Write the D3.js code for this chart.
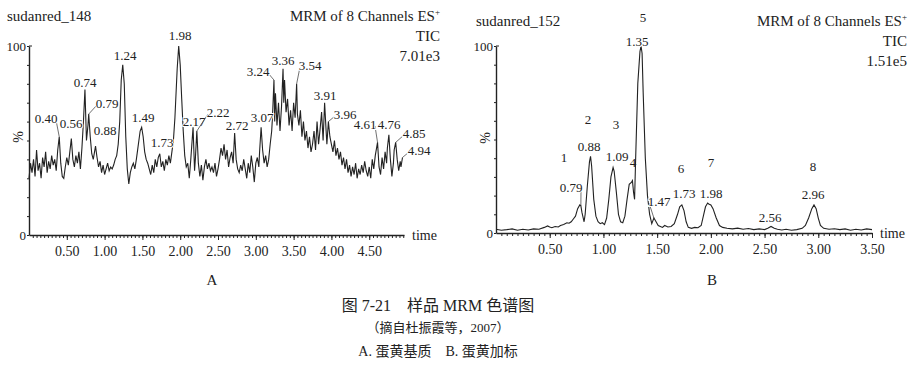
<!DOCTYPE html>
<html>
<head>
<meta charset="utf-8">
<script src="https://cdn.jsdelivr.net/npm/d3@7"></script>
<style>
  body { margin: 0; background: #fff; }
  svg text { font-family: "Liberation Serif", "DejaVu Serif", "Noto Sans CJK SC", serif; fill: #222; }
  .cjk { font-family: "Liberation Serif", "Noto Sans CJK SC", serif; }
  .domain, .tick line { stroke: #222; }
</style>
</head>
<body>
<div id="chart"></div>
<script>
// Trace A (sample matrix), [time, %]
var traceA = [
  [0.00,30],[0.02,38],[0.04,33],[0.06,40],[0.08,31],[0.10,45],[0.12,34],[0.14,38],[0.16,30],[0.18,41],
  [0.20,36],[0.22,44],[0.24,33],[0.26,39],[0.28,35],[0.30,42],[0.32,37],[0.34,40],[0.36,34],[0.38,45],
  [0.40,52],[0.42,38],[0.44,31],[0.46,30],[0.48,36],[0.50,41],[0.52,37],[0.54,44],[0.56,51],[0.58,40],
  [0.60,36],[0.62,42],[0.64,38],[0.66,44],[0.68,35],[0.70,46],[0.72,60],[0.74,77],[0.76,50],[0.78,58],
  [0.79,64],[0.81,52],[0.83,43],[0.85,40],[0.88,47],[0.90,41],[0.92,36],[0.94,39],[0.96,33],[0.98,37],
  [1.00,32],[1.02,35],[1.04,38],[1.06,34],[1.08,36],[1.10,35],[1.12,37],[1.14,40],[1.16,42],[1.18,48],
  [1.20,60],[1.22,82],[1.24,90],[1.26,80],[1.28,52],[1.30,35],[1.32,27],[1.34,33],[1.36,36],[1.38,38],
  [1.40,35],[1.42,40],[1.44,46],[1.47,55],[1.49,57],[1.51,52],[1.53,44],[1.55,40],[1.57,38],[1.59,35],
  [1.61,32],[1.63,37],[1.65,33],[1.67,40],[1.69,36],[1.71,41],[1.73,43],[1.75,36],[1.77,39],[1.79,34],
  [1.81,40],[1.83,37],[1.85,42],[1.87,38],[1.89,44],[1.91,50],[1.93,62],[1.96,88],[1.98,100],[2.00,90],
  [2.02,72],[2.04,55],[2.06,42],[2.08,36],[2.10,38],[2.12,30],[2.14,40],[2.17,57],[2.19,34],[2.20,40],
  [2.22,55],[2.24,38],[2.26,31],[2.28,37],[2.30,29],[2.32,36],[2.34,40],[2.36,35],[2.38,38],[2.40,34],
  [2.42,36],[2.44,33],[2.46,38],[2.48,31],[2.50,35],[2.52,40],[2.54,46],[2.56,42],[2.58,48],[2.60,40],
  [2.62,45],[2.64,36],[2.66,41],[2.68,44],[2.70,38],[2.72,54],[2.74,40],[2.76,35],[2.78,33],[2.80,37],
  [2.82,34],[2.84,40],[2.86,35],[2.88,30],[2.90,38],[2.92,33],[2.94,42],[2.96,36],[2.98,28],[3.00,38],
  [3.02,41],[3.04,36],[3.05,44],[3.07,57],[3.09,45],[3.11,38],[3.13,42],[3.15,36],[3.17,40],[3.19,48],
  [3.21,55],[3.22,62],[3.24,82],[3.25,60],[3.26,75],[3.28,58],[3.30,70],[3.32,55],[3.34,68],[3.36,88],
  [3.37,70],[3.38,82],[3.40,65],[3.42,72],[3.44,58],[3.46,66],[3.48,55],[3.50,70],[3.52,62],[3.54,80],
  [3.55,64],[3.57,58],[3.59,66],[3.61,52],[3.63,60],[3.65,50],[3.67,55],[3.69,46],[3.71,52],[3.73,44],
  [3.75,48],[3.77,55],[3.79,45],[3.81,60],[3.83,48],[3.85,56],[3.87,65],[3.89,50],[3.91,70],[3.93,55],
  [3.94,48],[3.96,60],[3.98,52],[4.00,48],[4.02,44],[4.04,50],[4.06,42],[4.08,46],[4.10,40],[4.12,44],
  [4.14,37],[4.16,41],[4.18,35],[4.20,40],[4.22,33],[4.24,37],[4.26,31],[4.28,36],[4.30,32],[4.32,38],
  [4.34,30],[4.36,35],[4.38,32],[4.40,37],[4.42,33],[4.44,39],[4.46,34],[4.48,31],[4.50,36],[4.52,30],
  [4.54,40],[4.56,35],[4.58,42],[4.61,49],[4.63,36],[4.65,32],[4.67,41],[4.69,35],[4.71,44],[4.73,38],
  [4.74,46],[4.76,53],[4.78,40],[4.80,31],[4.82,38],[4.83,45],[4.85,49],[4.87,40],[4.89,34],[4.91,39],
  [4.92,36],[4.94,41]
];

// Trace B (spiked sample)
var traceB = [
  [0.00,2],[0.05,1.5],[0.10,1.8],[0.15,2.2],[0.20,1.5],[0.25,2.0],[0.30,1.6],[0.35,2.2],[0.40,2.0],[0.45,3.0],
  [0.48,3.8],[0.50,3.2],[0.52,2.8],[0.55,3.5],[0.58,3.2],[0.60,4.0],[0.63,4.5],[0.66,5.5],[0.68,5.2],[0.70,6.0],
  [0.72,7.5],[0.74,9],[0.76,13],[0.78,15],[0.79,14.5],[0.80,11],[0.82,6],[0.83,10],[0.85,25],[0.87,38],
  [0.88,41],[0.89,36],[0.91,18],[0.93,9],[0.95,6],[0.97,5],[0.99,5.5],[1.01,4.5],[1.03,8],[1.05,18],
  [1.07,30],[1.09,35],[1.10,33],[1.12,22],[1.14,10],[1.16,6],[1.18,5.5],[1.20,9],[1.22,18],[1.24,26],
  [1.26,27],[1.27,28],[1.28,22],[1.29,18],[1.30,40],[1.32,80],[1.34,97],[1.35,100],[1.36,96],[1.37,75],
  [1.39,40],[1.41,20],[1.43,10],[1.45,5],[1.47,8],[1.49,6],[1.51,4],[1.53,3.5],[1.55,3],[1.57,4],
  [1.60,3.2],[1.63,3.5],[1.66,5],[1.69,10],[1.71,14],[1.73,15],[1.75,12],[1.77,6],[1.79,3],[1.82,2.5],
  [1.85,3],[1.88,2.8],[1.91,4],[1.93,9],[1.95,14],[1.97,16],[1.98,15.5],[2.00,15],[2.02,13],[2.05,8],
  [2.08,4],[2.11,3],[2.15,2.5],[2.20,2.2],[2.25,2.6],[2.30,2],[2.35,2.4],[2.40,1.8],[2.45,2.2],[2.50,1.8],
  [2.53,2.5],[2.56,3.5],[2.59,2.5],[2.62,2.0],[2.66,1.6],[2.70,2.0],[2.75,1.5],[2.80,1.8],[2.85,2.5],[2.88,4],
  [2.91,8],[2.94,13],[2.96,15],[2.98,13],[3.00,8],[3.02,4],[3.05,2.5],[3.10,2],[3.15,2.3],[3.20,1.8],
  [3.25,2.2],[3.30,1.5],[3.35,2.0],[3.40,1.6],[3.45,2.2],[3.50,1.8]
];

// Peak labels (retention times)
var peaksA = [0.40,0.56,0.74,0.79,0.88,1.24,1.49,1.73,1.98,2.17,2.22,2.72,3.07,3.24,3.36,3.54,3.91,3.96,4.61,4.76,4.85,4.94];
var peaksB = [0.79,0.88,1.09,1.35,1.47,1.73,1.98,2.56,2.96];
// compound numbers over B peaks
var compoundNums = ['1','2','3','4','5','6','7','8'];
var compoundTimes = [0.79,0.88,1.09,1.27,1.35,1.73,1.98,2.96];

var ticksA = [0.5,1.0,1.5,2.0,2.5,3.0,3.5,4.0,4.5];
var ticksB = [0.5,1.0,1.5,2.0,2.5,3.0,3.5];

// label placement (centre x, baseline y in page px) - layout only
var labelPosA = {
  0.40:[46,123], 0.56:[71,128], 0.74:[85,87], 0.79:[107,108], 0.88:[105,135], 1.24:[125,60],
  1.49:[143,122], 1.73:[162,147], 1.98:[180,40], 2.17:[194,126], 2.22:[218,117], 2.72:[237,130],
  3.07:[262,122], 3.24:[258,76], 3.36:[283,65], 3.54:[310,70], 3.91:[325,100], 3.96:[345,119],
  4.61:[365,129], 4.76:[389,129], 4.85:[414,138], 4.94:[419,155]
};
var labelPosB = {
  0.79:[571,192], 0.88:[589,151], 1.09:[617,161], 1.35:[637,46], 1.47:[659,206],
  1.73:[684,198], 1.98:[711,198], 2.56:[770,222], 2.96:[813,199]
};
var numPosB = [[564,162],[588,124],[616,129],[633,167],[643,22],[681,173],[711,167],[813,171]];

var svg = d3.select('#chart').append('svg')
    .attr('width', 919)
    .attr('height', 372);

function drawPanel(o) {
  var x = d3.scaleLinear().domain(o.xDomain).range(o.xRange);
  var y = d3.scaleLinear().domain([0, 100]).range(o.yRange);
  var g = svg.append('g');

  // minor x ticks
  g.append('g')
      .attr('transform', 'translate(0,' + o.yRange[0] + ')')
      .call(d3.axisBottom(x).tickValues(d3.range(0.05, o.xDomain[1] + 0.001, 0.05)).tickSize(3).tickFormat(''))
      .call(function(a){ a.select('.domain').remove(); });
  // major x ticks
  g.append('g')
      .attr('transform', 'translate(0,' + o.yRange[0] + ')')
      .call(d3.axisBottom(x).tickValues(o.ticks).tickSize(5).tickPadding(6).tickSizeOuter(0)
        .tickFormat(d3.format('.2f')))
      .call(function(a){
        a.select('.domain').attr('stroke-width', 1.4);
        a.selectAll('text').attr('font-size', '14px').style('font-family', '"Liberation Serif", serif');
      });

  // y axis
  g.append('g')
      .attr('transform', 'translate(' + o.xRange[0] + ',0)')
      .call(d3.axisLeft(y).tickValues(d3.range(0, 101, 10)).tickSize(2).tickSizeOuter(0).tickPadding(1)
        .tickFormat(function(d){ return (d === 0 || d === 100) ? d : ''; }))
      .call(function(a){
        a.select('.domain').attr('stroke-width', 1.4);
        a.selectAll('text').attr('font-size', '13px').style('font-family', '"Liberation Serif", serif');
      });
  g.append('line')
      .attr('x1', o.xRange[0]).attr('x2', o.xRange[0] + 3)
      .attr('y1', y(100)).attr('y2', y(100))
      .attr('stroke', '#222');

  // trace
  var line = d3.line().x(function(d){ return x(d[0]); }).y(function(d){ return y(d[1]); });
  g.append('path')
      .datum(o.data)
      .attr('d', line)
      .attr('fill', 'none')
      .attr('stroke', '#222')
      .attr('stroke-width', 1.1);

  // peak labels with leader lines
  var lookup = {};
  o.data.forEach(function(d){ lookup[d[0].toFixed(2)] = d[1]; });
  o.peaks.forEach(function(t){
    var p = o.labelPos[t];
    var v = lookup[t.toFixed(2)];
    var px = x(t), py = y(v);
    var dx = px - p[0];
    if (Math.abs(dx) > 10 || py - p[1] > 12) {
      g.append('line')
          .attr('x1', p[0] + (dx > 0 ? 10 : -10)).attr('y1', p[1] - 3)
          .attr('x2', px).attr('y2', py)
          .attr('stroke', '#333').attr('stroke-width', 0.7);
    }
    g.append('text')
        .attr('x', p[0]).attr('y', p[1])
        .attr('text-anchor', 'middle')
        .attr('font-size', '13px')
        .style('paint-order', 'stroke')
        .style('stroke', '#fff').style('stroke-width', 2)
        .text(t.toFixed(2));
  });

  // titles
  g.append('text').attr('x', o.nameX).attr('y', o.nameY).attr('font-size', '15px').text(o.name);
  var tr = g.append('text').attr('x', o.rightX).attr('y', o.nameY).attr('font-size', '15px').attr('text-anchor', 'end');
  tr.append('tspan').text('MRM of 8 Channels ES');
  tr.append('tspan').attr('font-size', '9px').attr('dy', -6).text('+');
  g.append('text').attr('x', o.rightX).attr('y', o.nameY + 20).attr('font-size', '15px').attr('text-anchor', 'end').text('TIC');
  g.append('text').attr('x', o.rightX).attr('y', o.nameY + 40).attr('font-size', '15px').attr('text-anchor', 'end').text(o.scale);

  g.append('text')
      .attr('x', o.xRange[1] + 8).attr('y', o.yRange[0] + 5)
      .attr('font-size', '14px').text('time');
  g.append('text')
      .attr('transform', 'translate(' + (o.xRange[0] - 6) + ',' + o.pctY + ') rotate(-90)')
      .attr('text-anchor', 'middle')
      .attr('font-size', '14px').text('%');
  g.append('text')
      .attr('x', o.letterX).attr('y', 285)
      .attr('text-anchor', 'middle')
      .attr('font-size', '15px').text(o.letter);
  return {x: x, y: y, g: g};
}

drawPanel({
  data: traceA, peaks: peaksA, labelPos: labelPosA, ticks: ticksA,
  xDomain: [0, 4.96], xRange: [29, 404], yRange: [235, 46],
  name: 'sudanred_148', nameX: 7, nameY: 21, rightX: 440, scale: '7.01e3',
  pctY: 137, letter: 'A', letterX: 212
});

var pb = drawPanel({
  data: traceB, peaks: peaksB, labelPos: labelPosB, ticks: ticksB,
  xDomain: [0, 3.5], xRange: [496, 872], yRange: [233, 46],
  name: 'sudanred_152', nameX: 476, nameY: 26, rightX: 907, scale: '1.51e5',
  pctY: 138, letter: 'B', letterX: 712
});

// compound numbers in panel B
compoundNums.forEach(function(n, i){
  pb.g.append('text')
      .attr('x', numPosB[i][0]).attr('y', numPosB[i][1])
      .attr('text-anchor', 'middle')
      .attr('font-size', '13px')
      .text(n);
});

// captions
var caps = [
  {text: '图 7-21\u3000样品 MRM 色谱图', y: 311, size: 16},
  {text: '（摘自杜振霞等，2007）', y: 332, size: 13},
  {text: 'A. 蛋黄基质\u3000B. 蛋黄加标', y: 356, size: 14}
];
caps.forEach(function(c){
  svg.append('text')
      .attr('class', 'cjk')
      .attr('x', 438).attr('y', c.y)
      .attr('text-anchor', 'middle')
      .attr('font-size', c.size + 'px')
      .text(c.text);
});
</script>
</body>
</html>
